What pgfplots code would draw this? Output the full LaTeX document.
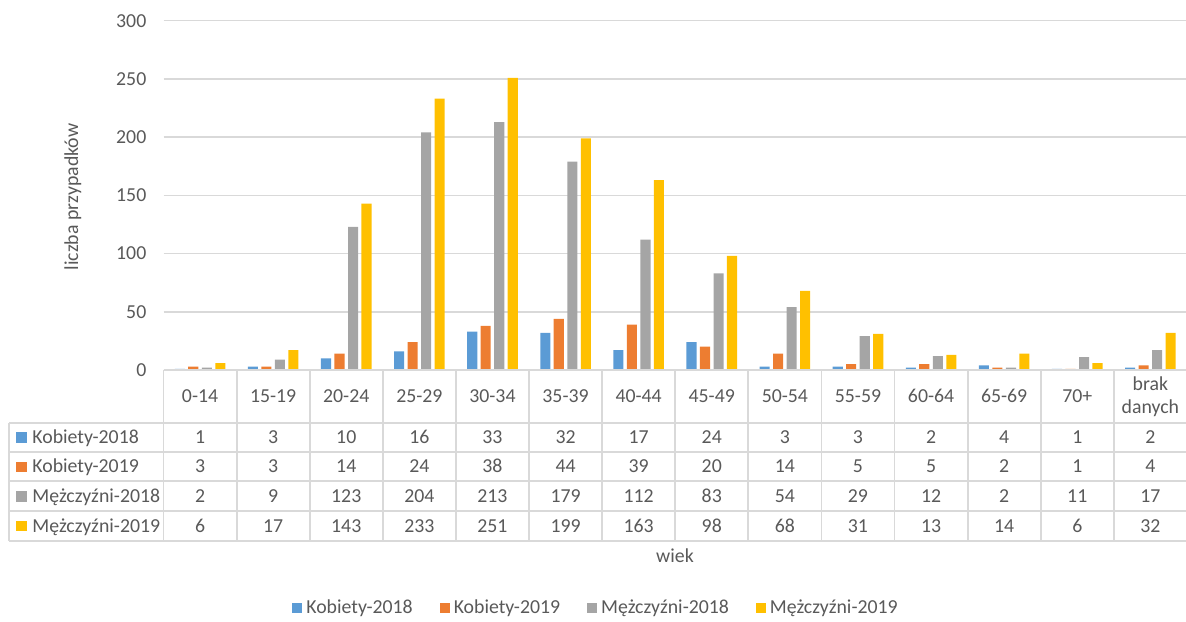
\documentclass[border=0pt]{standalone}
\usepackage{pgfplots}
\pgfplotsset{compat=1.18}
\usepackage{fontspec}
\setmainfont{Carlito}
\definecolor{cA}{HTML}{5B9BD5}
\definecolor{cB}{HTML}{ED7D31}
\definecolor{cC}{HTML}{A5A5A5}
\definecolor{cD}{HTML}{FFC000}
\definecolor{txt}{HTML}{595959}
\definecolor{gridc}{HTML}{D9D9D9}
\newcommand{\cf}{\fontsize{9.9}{11.4}\selectfont}
\begin{document}
\begin{tikzpicture}[font=\cf]
\path[use as bounding box] (0,0) rectangle (593pt,-310.5pt);
\begin{axis}[
  scale only axis, width=511.7pt, height=174.65pt,
  at={(81.75pt,-185pt)}, anchor=south west,
  xmin=-0.5, xmax=13.5, ymin=0, ymax=300,
  ytick={0,50,...,300}, xtick=\empty,
  axis line style={draw=none},
  ymajorgrids, grid style={gridc, line width=0.75pt},
  major tick length=0pt,
  yticklabel style={text=txt, font=\cf, inner sep=0pt, xshift=-8.4pt, /pgf/number format/assume math mode=true},
  clip=false,
  legend columns=4,
  legend style={draw=none, fill=none, font=\cf, text=txt, at={(0.4236,-0.681)}, anchor=center,
    /tikz/every even column/.append style={column sep=11.5pt}},
  legend image code/.code={\fill[#1] (0pt,-2.5pt) rectangle (5pt,2.5pt);},
]
\addplot[ybar, bar width=0.138, bar shift=-0.277, fill=cA, draw=none] coordinates {
 (0,1) (1,3) (2,10) (3,16) (4,33) (5,32) (6,17) (7,24) (8,3) (9,3) (10,2) (11,4) (12,1) (13,2)};
\addlegendentry{Kobiety-2018}
\addplot[ybar, bar width=0.138, bar shift=-0.093, fill=cB, draw=none] coordinates {
 (0,3) (1,3) (2,14) (3,24) (4,38) (5,44) (6,39) (7,20) (8,14) (9,5) (10,5) (11,2) (12,1) (13,4)};
\addlegendentry{Kobiety-2019}
\addplot[ybar, bar width=0.138, bar shift=0.093, fill=cC, draw=none] coordinates {
 (0,2) (1,9) (2,123) (3,204) (4,213) (5,179) (6,112) (7,83) (8,54) (9,29) (10,12) (11,2) (12,11) (13,17)};
\addlegendentry{Mężczyźni-2018}
\addplot[ybar, bar width=0.138, bar shift=0.277, fill=cD, draw=none] coordinates {
 (0,6) (1,17) (2,143) (3,233) (4,251) (5,199) (6,163) (7,98) (8,68) (9,31) (10,13) (11,14) (12,6) (13,32)};
\addlegendentry{Mężczyźni-2019}
\end{axis}
\begin{scope}[x=0.5pt,y=-0.5pt]
  % table grid
  \draw[gridc, line width=0.9pt] (163.5,370) -- (1190,370);
  \foreach \yy in {422.7,451.7,481,511,541} \draw[gridc, line width=0.9pt] (9,\yy) -- (1190,\yy);
  \draw[gridc, line width=0.9pt] (9,422.7) -- (9,541);
  \foreach \k in {0,...,14} \draw[gridc, line width=0.9pt] ({163.5+73.1*\k},370) -- ({163.5+73.1*\k},541);
  % category labels
  \foreach \lab [count=\k from 0] in {0-14,15-19,20-24,25-29,30-34,35-39,40-44,45-49,50-54,55-59,60-64,65-69,70+}
    \node[text=txt, anchor=base, inner sep=0pt] at ({163.5+73.1*(\k+0.5)},402.8) {\lab};
  \node[text=txt, align=center, inner sep=0pt, anchor=base] at ({163.5+73.1*13.5},413) {brak\\danych};
  % row labels
  \foreach \lab/\col [count=\r from 0] in {Kobiety-2018/cA,Kobiety-2019/cB,Mężczyźni-2018/cC,Mężczyźni-2019/cD}{
    \fill[\col] (16,{437.2+29.6*\r-5.3}) rectangle (26.7,{437.2+29.6*\r+5.3});
    \node[text=txt, anchor=base west, inner sep=0pt] at (32,{437.2+29.6*\r+6.1}) {\lab};
  }
  % values
  \foreach \v [count=\k from 0] in {1,3,10,16,33,32,17,24,3,3,2,4,1,2}
    \node[text=txt, anchor=base, inner sep=0pt] at ({163.5+73.1*(\k+0.5)},443.3) {\v};
  \foreach \v [count=\k from 0] in {3,3,14,24,38,44,39,20,14,5,5,2,1,4}
    \node[text=txt, anchor=base, inner sep=0pt] at ({163.5+73.1*(\k+0.5)},472.9) {\v};
  \foreach \v [count=\k from 0] in {2,9,123,204,213,179,112,83,54,29,12,2,11,17}
    \node[text=txt, anchor=base, inner sep=0pt] at ({163.5+73.1*(\k+0.5)},502.5) {\v};
  \foreach \v [count=\k from 0] in {6,17,143,233,251,199,163,98,68,31,13,14,6,32}
    \node[text=txt, anchor=base, inner sep=0pt] at ({163.5+73.1*(\k+0.5)},532.1) {\v};
  % axis titles
  \node[text=txt, anchor=base, inner sep=0pt] at (675,562) {wiek};
  \node[text=txt, anchor=base, rotate=90, inner sep=0pt] at (78,197) {liczba przypadków};
\end{scope}
\end{tikzpicture}
\end{document}
